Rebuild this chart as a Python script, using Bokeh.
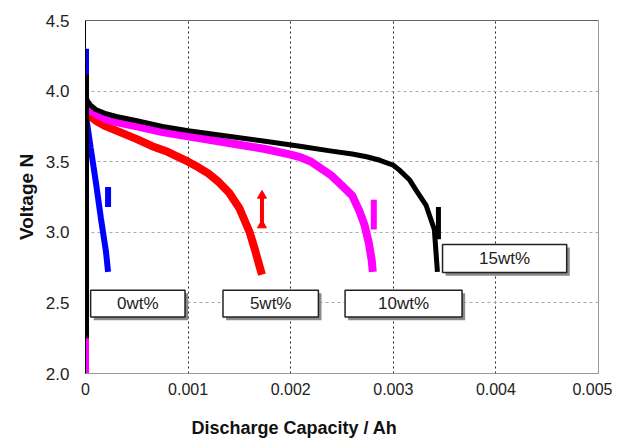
from bokeh.plotting import figure
from bokeh.models import Range1d, FixedTicker, Span, PrintfTickFormatter
from bokeh.embed import file_html
from bokeh.resources import INLINE
from bokeh.core.properties import value

# ---- data ----
x_ticks = [0, 0.001, 0.002, 0.003, 0.004, 0.005]
x_tick_labels = ["0", "0.001", "0.002", "0.003", "0.004", "0.005"]
y_ticks = [2.0, 2.5, 3.0, 3.5, 4.0, 4.5]

# 0wt% (blue)
blue_x = [0, 0.00002, 0.00005, 0.0001, 0.00015, 0.0002, 0.00022]
blue_y = [3.85, 3.75, 3.60, 3.36, 3.10, 2.86, 2.72]
blue_rest_x = [0, 0]
blue_rest_y = [4.08, 4.30]
blue_rec_x = [0.00022, 0.00022]
blue_rec_y = [3.18, 3.32]

# 5wt% (red)
red_x = [0, 0.00002, 0.00005, 0.0001, 0.0002, 0.0003, 0.0005, 0.00065, 0.0008, 0.001,
         0.0011, 0.0012, 0.0013, 0.0014, 0.0015, 0.0016, 0.00165, 0.0017, 0.00172]
red_y = [3.87, 3.84, 3.82, 3.79, 3.75, 3.72, 3.66, 3.61, 3.57, 3.50,
         3.46, 3.415, 3.355, 3.28, 3.17, 3.00, 2.88, 2.75, 2.70]
red_rest_x = [0, 0]
red_rest_y = [2.10, 2.25]
red_rec_x = [0.00172, 0.00172]
red_rec_y = [3.05, 3.26]

# 10wt% (magenta)
mag_x = [0, 0.00002, 0.00005, 0.0001, 0.0002, 0.0003, 0.0005, 0.00075, 0.001, 0.00125,
         0.0015, 0.00175, 0.002, 0.0021, 0.0022, 0.0023, 0.0024, 0.0025, 0.0026, 0.00267,
         0.00272, 0.00276, 0.00279, 0.0028]
mag_y = [3.90, 3.88, 3.86, 3.84, 3.80, 3.78, 3.75, 3.71, 3.68, 3.65,
         3.62, 3.59, 3.55, 3.53, 3.50, 3.45, 3.40, 3.33, 3.26, 3.15,
         3.05, 2.93, 2.80, 2.72]
mag_rest_x = [0, 0]
mag_rest_y = [2.00, 4.12]
mag_rec_x = [0.00281, 0.00281]
mag_rec_y = [3.02, 3.23]

# 15wt% (black)
blk_x = [0, 0.00002, 0.00005, 0.0001, 0.0002, 0.0003, 0.0005, 0.00075, 0.001, 0.00125,
         0.0015, 0.00175, 0.00209, 0.0024, 0.0026, 0.00274, 0.00287, 0.003, 0.00306, 0.00316,
         0.00322, 0.00332, 0.0034, 0.00343]
blk_y = [3.97, 3.93, 3.90, 3.87, 3.84, 3.82, 3.79, 3.75, 3.72, 3.695,
         3.67, 3.645, 3.61, 3.575, 3.555, 3.535, 3.51, 3.475, 3.44, 3.37,
         3.30, 3.19, 3.02, 2.72]
blk_rest_x = [0, 0]
blk_rest_y = [2.25, 4.12]
blk_rec_x = [0.00344, 0.00344]
blk_rec_y = [2.95, 3.18]

# series label boxes
lab_text = ["0wt%", "5wt%", "10wt%", "15wt%"]
lab_left = [0.00005, 0.00134, 0.00253, 0.00348]
lab_right = [0.00097, 0.00227, 0.00367, 0.00469]
lab_bottom = [2.40, 2.40, 2.40, 2.715]
lab_top = [2.59, 2.59, 2.59, 2.914]

FONT = "Liberation Sans"

p = figure(width=612, height=440, output_backend="svg", toolbar_location=None,
           x_range=Range1d(0, 0.005), y_range=Range1d(2.0, 4.5),
           min_border_left=85, min_border_right=14, min_border_top=20, min_border_bottom=67)
p.background_fill_color = "white"
p.border_fill_color = "white"
p.outline_line_color = "#999999"
p.outline_line_width = 1

# grids
p.xgrid.ticker = FixedTicker(ticks=x_ticks)
p.ygrid.ticker = FixedTicker(ticks=y_ticks)
p.xgrid.grid_line_color = "#222222"
p.xgrid.grid_line_dash = "2 3"
p.xgrid.grid_line_width = 1
p.ygrid.grid_line_color = "#aaaaaa"
p.ygrid.grid_line_dash = "3 3"
p.ygrid.grid_line_width = 1

# axes
xa = p.xaxis[0]
xa.ticker = FixedTicker(ticks=x_ticks)
xa.major_label_overrides = {t: l for t, l in zip(x_ticks, x_tick_labels)}
xa.axis_line_color = "#999999"
xa.major_tick_in = 0
xa.major_tick_out = 0
xa.minor_tick_in = 0
xa.minor_tick_out = 0
xa.major_label_standoff = 9
xa.major_label_text_font = FONT
xa.major_label_text_font_size = "16px"
xa.major_label_text_color = "#222222"
# title sits left of centre in the reference: pad with non-breaking spaces
xa.axis_label = "Discharge Capacity / Ah" + "\u00a0" * 19
xa.axis_label_text_font = FONT
xa.axis_label_text_font_style = "bold"
xa.axis_label_text_font_size = "18px"
xa.axis_label_standoff = 20
xa.axis_label_text_color = "#111111"

ya = p.yaxis[0]
ya.ticker = FixedTicker(ticks=y_ticks)
ya.formatter = PrintfTickFormatter(format="%.1f")
ya.axis_line_color = "black"
ya.major_tick_in = 0
ya.major_tick_out = 0
ya.minor_tick_in = 0
ya.minor_tick_out = 0
ya.major_label_standoff = 16
ya.major_label_text_font = FONT
ya.major_label_text_font_size = "17px"
ya.major_label_text_color = "#222222"
ya.axis_label = "Voltage N"
ya.axis_label_text_font = FONT
ya.axis_label_text_font_style = "bold"
ya.axis_label_text_font_size = "19px"
ya.axis_label_standoff = 6
ya.axis_label_text_color = "#111111"

# top frame line
p.add_layout(Span(location=4.5, dimension="width", line_color="#333333", line_width=1.2))

# curves
p.line(blue_rest_x, blue_rest_y, line_color="blue", line_width=7)
p.line(blue_x, blue_y, line_color="blue", line_width=6)
p.line(blue_rec_x, blue_rec_y, line_color="blue", line_width=6)

p.line(red_rest_x, red_rest_y, line_color="red", line_width=7)
p.line(red_x, red_y, line_color="red", line_width=8, line_join="round")
p.line(red_rec_x, red_rec_y, line_color="red", line_width=4)
p.scatter(red_rec_x, red_rec_y, marker="triangle", size=9, color="red")

p.line(mag_rest_x, mag_rest_y, line_color="magenta", line_width=7)
p.line(mag_x, mag_y, line_color="magenta", line_width=8, line_join="round")
p.line(mag_rec_x, mag_rec_y, line_color="magenta", line_width=6)

p.line(blk_rest_x, blk_rest_y, line_color="black", line_width=7)
p.line(blk_x, blk_y, line_color="black", line_width=5, line_join="round")
p.line(blk_rec_x, blk_rec_y, line_color="black", line_width=5)

# label boxes with shadow
dx = 0.00003
dy = 0.022
p.quad(left=[l + dx for l in lab_left], right=[r + dx for r in lab_right],
       bottom=[b - dy for b in lab_bottom], top=[t - dy for t in lab_top],
       fill_color="#8a8a8a", line_color=None)
p.quad(left=lab_left, right=lab_right, bottom=lab_bottom, top=lab_top,
       fill_color="white", line_color="#222222", line_width=1.5)
p.text(x=[(l + r) / 2 for l, r in zip(lab_left, lab_right)],
       y=[(b + t) / 2 for b, t in zip(lab_bottom, lab_top)],
       text=lab_text, text_align="center", text_baseline="middle",
       text_font=value(FONT), text_font_size="17px", text_color="#222222")

open("out.html", "w").write(file_html(p, INLINE))
